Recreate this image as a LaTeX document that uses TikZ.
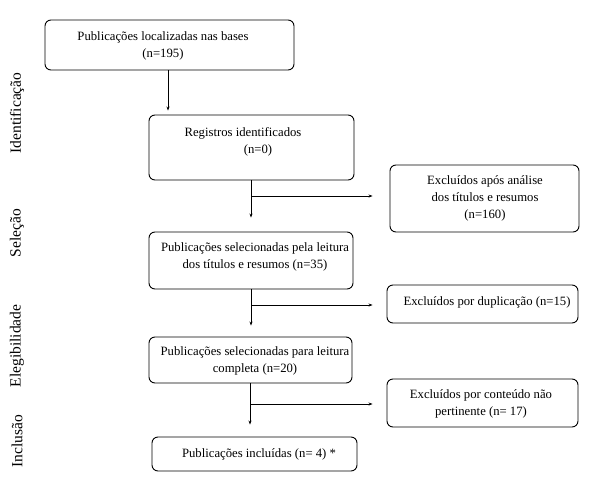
\documentclass[tikz,border=0pt]{standalone}
\usepackage{fontspec}
\setmainfont{Liberation Serif}
\usetikzlibrary{arrows.meta}
\begin{document}
\begin{tikzpicture}[x=1pt,y=-1pt,
  box/.style={draw,line width=0.9pt,rounded corners=6pt,inner sep=0pt},
  txt/.style={font=\fontsize{12.7}{17}\selectfont,align=center,inner sep=0pt},
  side/.style={font=\fontsize{15.5}{17}\selectfont,rotate=90,inner sep=0pt},
  arr/.style={line width=0.6pt,-{Stealth[length=4pt,width=3pt]}},
  ln/.style={line width=0.6pt}]
\useasboundingbox (0,0) rectangle (592,493);
% boxes
\node[box,minimum width=249pt,minimum height=50pt] (b1) at (169.5,45) {};
\node[box,minimum width=205pt,minimum height=65pt] (b2) at (251.5,147.5) {};
\node[box,minimum width=189pt,minimum height=67pt] (b3) at (484.5,198.5) {};
\node[box,minimum width=204pt,minimum height=57pt] (b4) at (251,260.5) {};
\node[box,minimum width=191pt,minimum height=38pt] (b5) at (482.5,304) {};
\node[box,minimum width=203pt,minimum height=46pt] (b6) at (250.5,360) {};
\node[box,minimum width=191pt,minimum height=48pt] (b7) at (482.5,403) {};
\node[box,minimum width=205pt,minimum height=34pt] (b8) at (254.5,454) {};
% texts
\node[txt] (t1) at (163,46) {Publicações localizadas nas bases\\(n=195)};
\node[txt] (t2a) at (243,133) {Registros identificados};
\node[txt] (t2b) at (258,150) {(n=0)};
\node[txt] (t3) at (485,198) {Excluídos após análise\\dos títulos e resumos\\(n=160)};
\node[txt] (t4) at (255,257) {Publicações selecionadas pela leitura\\dos títulos e resumos (n=35)};
\node[txt] (t5) at (487,302) {Excluídos por duplicação (n=15)};
\node[txt] (t6) at (255,360.5) {Publicações selecionadas para leitura\\completa (n=20)};
\node[txt] (t7) at (481,403.5) {Excluídos por conteúdo não\\pertinente (n= 17)};
\node[txt] (t8) at (259,454) {Publicações incluídas (n= 4) *};
% side labels
\node[side] (s1) at (17,113) {Identificação};
\node[side] (s2) at (17,233) {Seleção};
\node[side] (s3) at (17,346) {Elegibilidade};
\node[side] (s4) at (17,441) {Inclusão};
% connectors
\coordinate (x1) at (168,0);
\coordinate (x2) at (251,0);
\coordinate (x3) at (250,0);
\draw[arr,shorten >=4pt] (b1.south -| x1) -- (b2.north -| x1);
\draw[arr,shorten >=14pt] (b2.south -| x2) -- (b4.north -| x2);
\draw[arr,shorten >=11pt] (b4.south -| x2) -- (b6.north -| x2);
\draw[arr,shorten >=12pt] (b6.south -| x3) -- (b8.north -| x3);
\coordinate (j1) at (251,196);
\coordinate (j2) at (251,305);
\coordinate (j3) at (250,404);
\draw[arr,shorten >=17pt] (j1) -- (b3.west |- j1);
\draw[arr,shorten >=14pt] (j2) -- (b5.west |- j2);
\draw[arr,shorten >=14pt] (j3) -- (b7.west |- j3);
\end{tikzpicture}
\end{document}
